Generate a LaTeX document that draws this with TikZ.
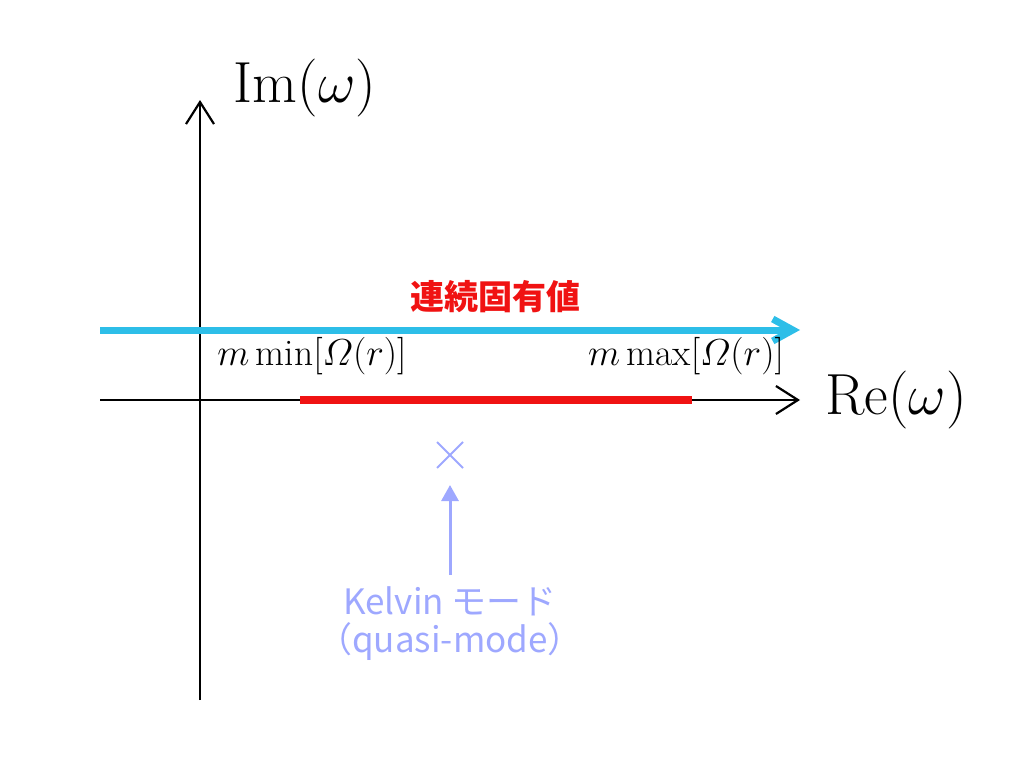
\documentclass[tikz,border=0pt]{standalone}
\usepackage{fix-cm}
\usepackage{amsmath}
\usepackage{fontspec}
\newfontfamily\cjk{Noto Sans CJK JP}
\usetikzlibrary{arrows.meta,calc}
\definecolor{cyanline}{RGB}{45,190,232}
\definecolor{redline}{RGB}{240,18,18}
\definecolor{lav}{RGB}{158,168,255}
\tikzset{
  axis/.style={line width=2.2pt, black, -{Straight Barb[length=22pt,width=28pt]}},
  bigmath/.style={font=\fontsize{58}{64}\selectfont, inner sep=0pt},
  midmath/.style={font=\fontsize{37.5}{42}\selectfont, inner sep=0pt},
  jlabel/.style={font=\cjk\bfseries\fontsize{34}{40}\selectfont, text=redline, inner sep=0pt},
  klabel/.style={font=\cjk\fontsize{35}{38}\selectfont, text=lav, inner sep=0pt, align=center},
}
\begin{document}
\begin{tikzpicture}[x=1pt,y=-1pt]
\useasboundingbox (0,0) rectangle (1024,768);
% axes
\coordinate (ybot) at (200,700);
\coordinate (ytop) at (200,100);
\coordinate (xl) at (100,400);
\coordinate (xr) at (800,400);
\draw[axis] (ybot) -- (ytop);
\draw[axis] (xl) -- (xr);
% cyan arrow
\coordinate (cl) at (100,330);
\coordinate (cr) at (800,330);
\draw[cyanline, line width=7pt, -{Straight Barb[length=20pt,width=22pt]}] (cl) -- (cr);
% red segment
\coordinate (rl) at (300,400);
\coordinate (rr) at (692,400);
\draw[redline, line width=8pt] (rl) -- (rr);
% labels
\node[bigmath] (im) at (305,88) {$\mathrm{Im}(\omega)$};
\node[bigmath] (re) at (896,400) {$\mathrm{Re}(\omega)$};
\node[midmath] (mmin) at (312,356) {$m\min[\varOmega(r)]$};
\node[midmath] (mmax) at (686,356) {$m\max[\varOmega(r)]$};
\node[jlabel] (jp) at (495,297) {連続固有値};
% Kelvin mode
\coordinate (xc) at (450,455);
\draw[lav, line width=2pt] ($(xc)+(-13,-13)$) -- ($(xc)+(13,13)$);
\draw[lav, line width=2pt] ($(xc)+(-13,13)$) -- ($(xc)+(13,-13)$);
\coordinate (kb) at (450,575);
\coordinate (kt) at (450,485);
\draw[lav, line width=3pt, -{Triangle[length=16pt,width=17pt]}] (kb) -- (kt);
\node[klabel] (kel) at (450,624) {Kelvin モード\\（quasi-mode）};
\end{tikzpicture}
\end{document}
